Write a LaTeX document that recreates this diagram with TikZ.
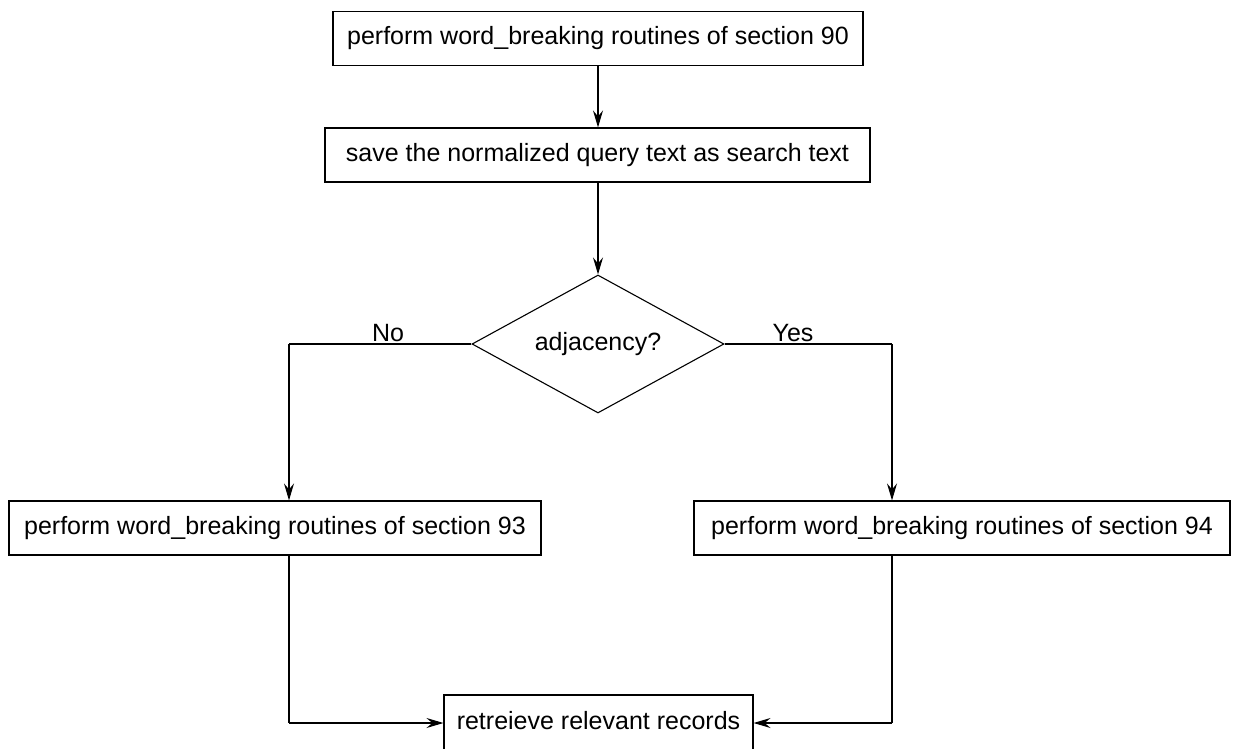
\documentclass[tikz,border=0pt]{standalone}
\usepackage{fontspec}
\setmainfont{Liberation Sans}
\usetikzlibrary{arrows.meta,shapes.geometric}
\begin{document}
\begin{tikzpicture}[x=1pt,y=-1pt,
  txt/.style={font=\fontsize{25}{30}\selectfont},
  box/.style={txt,draw,line width=1.1pt,minimum height=54pt,inner sep=0pt},
  dec/.style={txt,draw,diamond,line width=1.1pt,minimum width=252pt,minimum height=138pt,inner sep=0pt,aspect=1.83},
  conn/.style={line width=1.1pt},
  arr/.style={conn,-{Stealth[length=17pt,width=10pt,inset=6pt]}},
  lab/.style={txt,fill=white,inner xsep=4pt,inner ysep=1pt,anchor=base}]
\useasboundingbox (0,0) rectangle (1235,749);
\node[box,minimum width=530pt] (b1) at (598,38.5) {perform word\_breaking routines of section 90};
\node[box,minimum width=545pt] (b2) at (597.5,155) {save the normalized query text as search text};
\node[dec] (d) at (598,344) {adjacency?};
\node[box,minimum width=532pt] (b3) at (275,528) {perform word\_breaking routines of section 93};
\node[box,minimum width=536pt] (b4) at (962,528) {perform word\_breaking routines of section 94};
\node[box,minimum width=309pt,minimum height=60pt] (b5) at (598.5,725) {};
\node[txt] (b5t) at (598.5,721) {retreieve relevant records};
\coordinate (nl) at (289,344);
\coordinate (yr) at (892,344);
\draw[arr] (b1.south) -- (b1.south |- b2.north);
\draw[arr] (b2.south -| d.north) -- (d.north);
\draw[conn] (d.west) -- (nl);
\draw[arr] (nl) -- (nl |- b3.north);
\draw[conn] (d.east) -- (yr);
\draw[arr] (yr) -- (yr |- b4.north);
\node[lab] (no) at (388,341) {No};
\node[lab] (yes) at (793,341) {Yes};
\coordinate (lb) at (289,723);
\coordinate (rb) at (892,723);
\draw[conn] (nl |- b3.south) -- (lb);
\draw[arr] (lb) -- (lb -| b5.west);
\draw[conn] (yr |- b4.south) -- (rb);
\draw[arr] (rb) -- (rb -| b5.east);
\end{tikzpicture}
\end{document}
